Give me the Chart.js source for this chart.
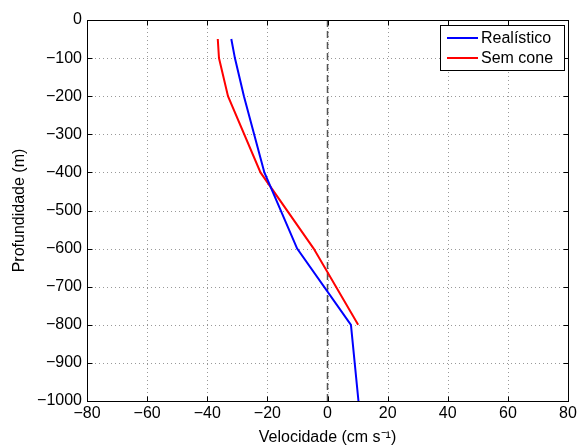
<!DOCTYPE html>
<html>
<head>
<meta charset="utf-8">
<script src="https://cdn.jsdelivr.net/npm/chart.js@4"></script>
<style>
  body { margin: 0; background: #fff; }
  canvas { display: block; }
</style>
</head>
<body>
<canvas id="chart" width="580" height="447"></canvas>
<script>
// depth (m) and velocity (cm/s)
const depthRealistic = [-50, -100, -200, -400, -600, -800, -1000];
const velRealistic = [-32, -30.8, -27.8, -21, -10.1, 7.8, 10.3];
const depthNoCone = [-50, -100, -200, -400, -600, -800];
const velNoCone = [-36.5, -36.1, -33.1, -22.3, -4.6, 10.2];
const zeroLine = [0, -1000];

const FONT = 'Liberation Sans, Arial, Helvetica, sans-serif';

function pts(xs, ys) {
    return xs.map((v, i) => ({ x: v, y: ys[i] }));
}

function minus(v) {
    return v < 0 ? '\u2212' + Math.abs(v) : String(v);
}

// MATLAB-ish box, dotted grid, inward ticks and boxed legend
const frame = {
    id: 'frame',
    beforeDatasetsDraw(chart) {
        const { ctx, chartArea: a, scales: { x, y } } = chart;
        ctx.save();
        ctx.strokeStyle = '#999';
        ctx.lineWidth = 1;
        ctx.setLineDash([1, 3]);
        x.ticks.forEach(t => {
            const px = Math.round(x.getPixelForValue(t.value)) + 0.5;
            ctx.beginPath(); ctx.moveTo(px, a.top); ctx.lineTo(px, a.bottom); ctx.stroke();
        });
        y.ticks.forEach(t => {
            const py = Math.round(y.getPixelForValue(t.value)) + 0.5;
            ctx.beginPath(); ctx.moveTo(a.left, py); ctx.lineTo(a.right, py); ctx.stroke();
        });
        ctx.restore();
    },
    afterDraw(chart) {
        const { ctx, chartArea: a, scales: { x, y } } = chart;
        ctx.save();
        ctx.strokeStyle = '#000';
        ctx.lineWidth = 1;
        const L = Math.round(a.left) + 0.5, R = Math.round(a.right) + 0.5;
        const T = Math.round(a.top) + 0.5, B = Math.round(a.bottom) + 0.5;
        ctx.strokeRect(L, T, R - L, B - T);
        const tl = 5;
        ctx.beginPath();
        x.ticks.forEach(t => {
            const px = Math.round(x.getPixelForValue(t.value)) + 0.5;
            ctx.moveTo(px, B); ctx.lineTo(px, B - tl);
            ctx.moveTo(px, T); ctx.lineTo(px, T + tl);
        });
        y.ticks.forEach(t => {
            const py = Math.round(y.getPixelForValue(t.value)) + 0.5;
            ctx.moveTo(L, py); ctx.lineTo(L + tl, py);
            ctx.moveTo(R, py); ctx.lineTo(R - tl, py);
        });
        ctx.stroke();

        // legend
        const items = chart.data.datasets.filter(d => d.label);
        const bx = 440.5, by = 25.5, bw = 124, bh = 45;
        ctx.fillStyle = '#fff';
        ctx.fillRect(bx, by, bw, bh);
        ctx.strokeRect(bx, by, bw, bh);
        ctx.font = '16px ' + FONT;
        ctx.textBaseline = 'middle';
        items.forEach((d, i) => {
            const ry = 38 + i * 20;
            ctx.strokeStyle = d.borderColor;
            ctx.lineWidth = 2;
            ctx.beginPath(); ctx.moveTo(447, ry); ctx.lineTo(478, ry); ctx.stroke();
            ctx.fillStyle = '#000';
            ctx.fillText(d.label, 481, ry + 1);
        });
        ctx.restore();
    }
};

new Chart(document.getElementById('chart').getContext('2d'), {
    type: 'scatter',
    data: {
        datasets: [
            {
                label: 'Realístico',
                data: pts(velRealistic, depthRealistic),
                showLine: true,
                borderColor: '#0000ff',
                borderWidth: 2,
                pointRadius: 0,
                tension: 0
            },
            {
                label: 'Sem cone',
                data: pts(velNoCone, depthNoCone),
                showLine: true,
                borderColor: '#ff0000',
                borderWidth: 2,
                pointRadius: 0,
                tension: 0
            },
            {
                label: '',
                data: pts([0, 0], zeroLine),
                showLine: true,
                borderColor: '#555',
                borderWidth: 1.5,
                borderDash: [7, 4],
                pointRadius: 0
            }
        ]
    },
    options: {
        responsive: false,
        animation: false,
        layout: { padding: { top: 20, right: 12, left: 0, bottom: 0 } },
        plugins: {
            legend: { display: false },
            tooltip: { enabled: false }
        },
        scales: {
            x: {
                type: 'linear',
                min: -80,
                max: 80,
                grid: { display: false, drawTicks: false },
                border: { display: false },
                ticks: {
                    stepSize: 20,
                    color: '#000',
                    padding: 3,
                    maxRotation: 0,
                    font: { family: FONT, size: 16 },
                    callback: v => minus(v)
                },
                title: {
                    display: true,
                    text: 'Velocidade (cm s\u207B\u00B9)',
                    color: '#000',
                    padding: { top: 0, bottom: 0 },
                    font: { family: FONT, size: 16 }
                },
                afterFit(s) { s.height = 46; }
            },
            y: {
                type: 'linear',
                min: -1000,
                max: 0,
                grid: { display: false, drawTicks: false },
                border: { display: false },
                ticks: {
                    stepSize: 100,
                    color: '#000',
                    padding: 5,
                    font: { family: FONT, size: 16 },
                    callback: v => minus(v)
                },
                title: {
                    display: true,
                    text: 'Profundidade (m)',
                    color: '#000',
                    padding: { top: 10, bottom: 0 },
                    font: { family: FONT, size: 16 }
                },
                afterFit(s) { s.width = 87; }
            }
        }
    },
    plugins: [frame]
});
</script>
</body>
</html>
